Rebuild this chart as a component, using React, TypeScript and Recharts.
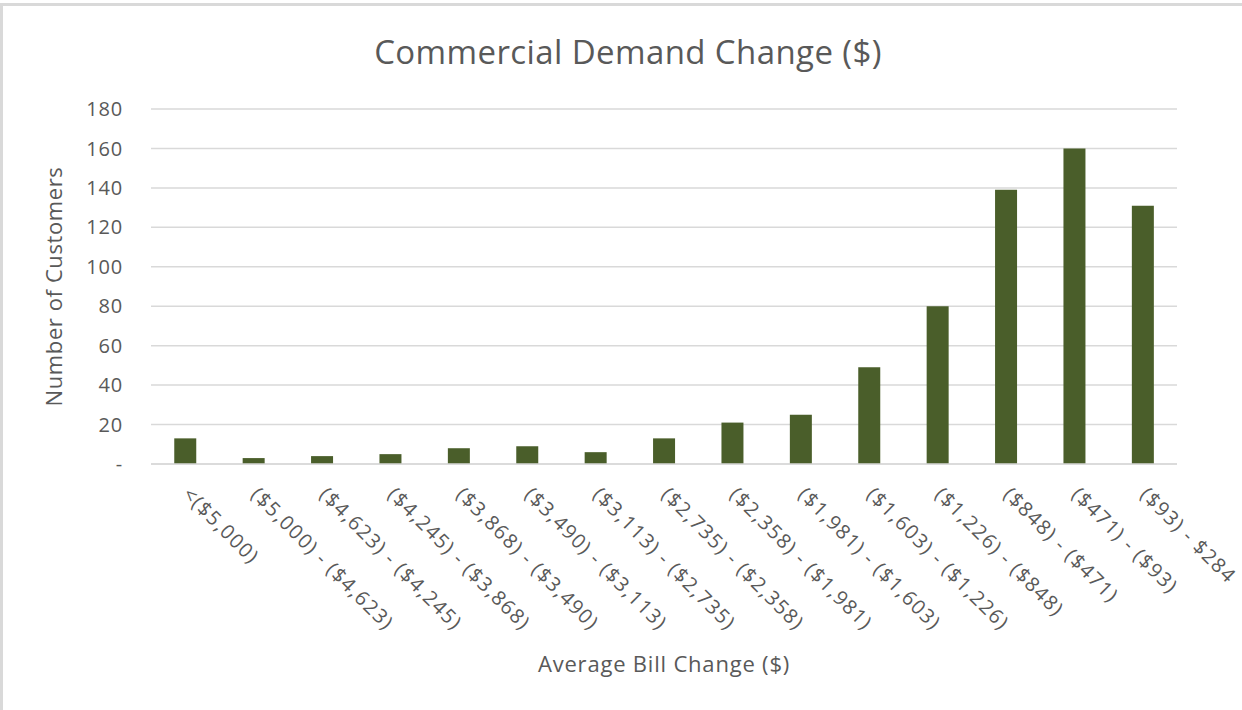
import React from "react";
import { BarChart, Bar, XAxis, YAxis, CartesianGrid, Label } from "recharts";

const categories = [
  "<($5,000)",
  "($5,000) - ($4,623)",
  "($4,623) - ($4,245)",
  "($4,245) - ($3,868)",
  "($3,868) - ($3,490)",
  "($3,490) - ($3,113)",
  "($3,113) - ($2,735)",
  "($2,735) - ($2,358)",
  "($2,358) - ($1,981)",
  "($1,981) - ($1,603)",
  "($1,603) - ($1,226)",
  "($1,226) - ($848)",
  "($848) - ($471)",
  "($471) - ($93)",
  "($93) - $284",
];
const customers = [13, 3, 4, 5, 8, 9, 6, 13, 21, 25, 49, 80, 139, 160, 131];
const yTicks = [0, 20, 40, 60, 80, 100, 120, 140, 160, 180];

const data = categories.map((c, i) => ({ range: c, customers: customers[i] }));

const FONT = "'Open Sans', sans-serif";
const GREY = "#595959";

const XTick = (props: any) => {
  const { x, y, payload } = props;
  return (
    <text
      x={x}
      y={y}
      transform={`rotate(45, ${x}, ${y})`}
      textAnchor="start"
      dominantBaseline="middle"
      fill={GREY}
      fontSize={20}
      letterSpacing={1.4}
      fontFamily={FONT}
    >
      {payload.value}
    </text>
  );
};

export default function App() {
  return (
    <div style={{ position: "absolute", left: 0, top: 0, width: 1242, height: 710, background: "#fff", overflow: "hidden" }}>
      <div
        style={{
          position: "absolute",
          left: 0,
          top: 3,
          width: 1250,
          height: 720,
          borderTop: "3px solid #d9d9d9",
          borderLeft: "3px solid #d9d9d9",
          boxSizing: "border-box",
        }}
      />
      <div
        style={{
          position: "absolute",
          left: 0,
          top: 31,
          width: 1256,
          textAlign: "center",
          fontFamily: FONT,
          fontSize: 33,
          letterSpacing: 0.4,
          color: GREY,
          lineHeight: "42px",
        }}
      >
        Commercial Demand Change ($)
      </div>
      <div style={{ position: "absolute", left: 0, top: 0 }}>
        <BarChart
          width={1242}
          height={710}
          data={data}
          margin={{ top: 109, right: 65, left: 0, bottom: 0 }}
          barCategoryGap="34%"
        >
          <CartesianGrid vertical={false} stroke="#d9d9d9" strokeWidth={1.5} />
          <XAxis
            dataKey="range"
            interval={0}
            height={246}
            tickLine={false}
            axisLine={{ stroke: "#d9d9d9", strokeWidth: 1.5 }}
            tick={<XTick />}
            tickSize={0}
            tickMargin={28}
          >
            <Label
              value="Average Bill Change ($)"
              position="insideBottom"
              offset={38}
              style={{ fill: GREY, fontSize: 22, letterSpacing: 0.8, fontFamily: FONT }}
            />
          </XAxis>
          <YAxis
            width={151}
            domain={[0, 180]}
            ticks={yTicks}
            interval={0}
            tickLine={false}
            axisLine={false}
            tickSize={0}
            tickMargin={28}
            tickFormatter={(v: number) => (v === 0 ? "-" : String(v))}
            tick={{ fill: GREY, fontSize: 20, letterSpacing: 0.8, fontFamily: FONT }}
          >
            <Label
              value="Number of Customers"
              angle={-90}
              position="insideLeft"
              offset={54}
              style={{ fill: GREY, fontSize: 22, letterSpacing: 0.6, fontFamily: FONT, textAnchor: "middle" }}
            />
          </YAxis>
          <Bar dataKey="customers" fill="#4a5e2a" isAnimationActive={false} />
        </BarChart>
      </div>
    </div>
  );
}
